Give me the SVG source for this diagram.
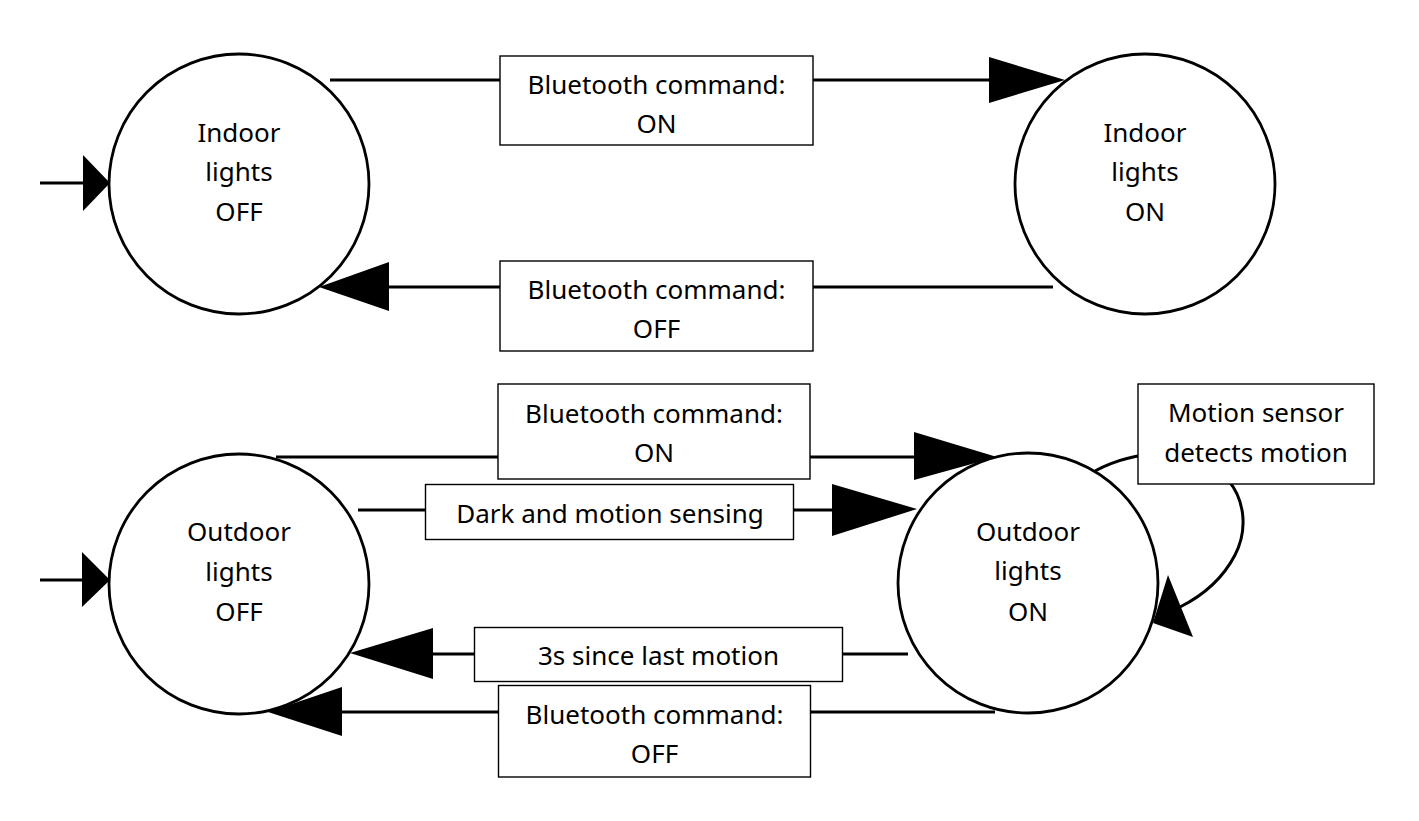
<svg xmlns="http://www.w3.org/2000/svg" width="1419" height="821" viewBox="0 0 1419 821">
<style>
.bg{fill:#fff}
.state{fill:#fff;stroke:#000;stroke-width:2.8}
.lbl{fill:#fff;stroke:#000;stroke-width:1.4}
.edge{fill:none;stroke:#000;stroke-width:3}
.head{fill:#000;stroke:none}
text{font-family:"Noto Sans","Open Sans","Liberation Sans",sans-serif;font-size:26px;fill:#000;text-anchor:middle}
</style>
<rect class="bg" x="0" y="0" width="1419" height="821"/>

<g id="connectors">
  <!-- initial arrows -->
  <line class="edge" x1="40" y1="183" x2="84" y2="183"/>
  <polygon class="head" points="83,155 83,211 110,183"/>
  <line class="edge" x1="40" y1="580" x2="84" y2="580"/>
  <polygon class="head" points="82,552 82,607 110,580"/>

  <!-- indoor OFF -> ON -->
  <line class="edge" x1="330" y1="80" x2="990" y2="80"/>
  <polygon class="head" points="989,57 989,103 1065,80"/>
  <!-- indoor ON -> OFF -->
  <line class="edge" x1="1053" y1="287" x2="388" y2="287"/>
  <polygon class="head" points="389,262 389,311 319,287"/>

  <!-- outdoor OFF -> ON (bluetooth) -->
  <line class="edge" x1="276" y1="457" x2="915" y2="457"/>
  <polygon class="head" points="914,432 914,480 997,457"/>
  <!-- outdoor OFF -> ON (dark) -->
  <line class="edge" x1="358" y1="510" x2="833" y2="510"/>
  <polygon class="head" points="832,484 832,536 917,509"/>
  <!-- outdoor ON -> OFF (3s) -->
  <line class="edge" x1="908" y1="654" x2="432" y2="654"/>
  <polygon class="head" points="433,628 433,679 350,653"/>
  <!-- outdoor ON -> OFF (bluetooth) -->
  <line class="edge" x1="995" y1="712" x2="341" y2="712"/>
  <polygon class="head" points="342,687 342,736 268,712"/>

  <!-- self loop -->
  <path class="edge" d="M1095,471 C1140,447 1200,448 1228,480 C1245,500 1248,530 1235,555 C1222,580 1200,597 1180,607"/>
  <polygon class="head" points="1168,575 1193,637 1153,623"/>
</g>

<g id="node-indoor-off">
  <circle class="state" cx="239" cy="184" r="130"/>
  <text x="239" y="142">Indoor</text>
  <text x="239" y="181">lights</text>
  <text x="239" y="221">OFF</text>
</g>
<g id="node-indoor-on">
  <circle class="state" cx="1145" cy="184" r="130"/>
  <text x="1145" y="142">Indoor</text>
  <text x="1145" y="181">lights</text>
  <text x="1145" y="221">ON</text>
</g>
<g id="node-outdoor-off">
  <circle class="state" cx="239" cy="584" r="130"/>
  <text x="239" y="541">Outdoor</text>
  <text x="239" y="581">lights</text>
  <text x="239" y="621">OFF</text>
</g>
<g id="node-outdoor-on">
  <circle class="state" cx="1028" cy="583" r="130"/>
  <text x="1028" y="541">Outdoor</text>
  <text x="1028" y="580">lights</text>
  <text x="1028" y="621">ON</text>
</g>

<g id="label-indoor-on">
  <rect class="lbl" x="500" y="56" width="313" height="89"/>
  <text x="656.5" y="94">Bluetooth command:</text>
  <text x="656.5" y="133">ON</text>
</g>
<g id="label-indoor-off">
  <rect class="lbl" x="500" y="261" width="313" height="90"/>
  <text x="656.5" y="299">Bluetooth command:</text>
  <text x="656.5" y="338">OFF</text>
</g>
<g id="label-outdoor-bt-on">
  <rect class="lbl" x="498" y="384" width="312" height="95"/>
  <text x="654" y="423">Bluetooth command:</text>
  <text x="654" y="462">ON</text>
</g>
<g id="label-outdoor-dark">
  <rect class="lbl" x="425.5" y="484.5" width="368" height="55"/>
  <text x="610" y="523">Dark and motion sensing</text>
</g>
<g id="label-outdoor-3s">
  <rect class="lbl" x="474.5" y="627.5" width="368" height="54"/>
  <text x="658.5" y="665">3s since last motion</text>
</g>
<g id="label-outdoor-bt-off">
  <rect class="lbl" x="498.5" y="685.5" width="312" height="91.5"/>
  <text x="654.5" y="724">Bluetooth command:</text>
  <text x="654.5" y="763">OFF</text>
</g>
<g id="label-motion">
  <rect class="lbl" x="1138" y="384" width="236" height="100"/>
  <text x="1256" y="422">Motion sensor</text>
  <text x="1256" y="462">detects motion</text>
</g>
</svg>
